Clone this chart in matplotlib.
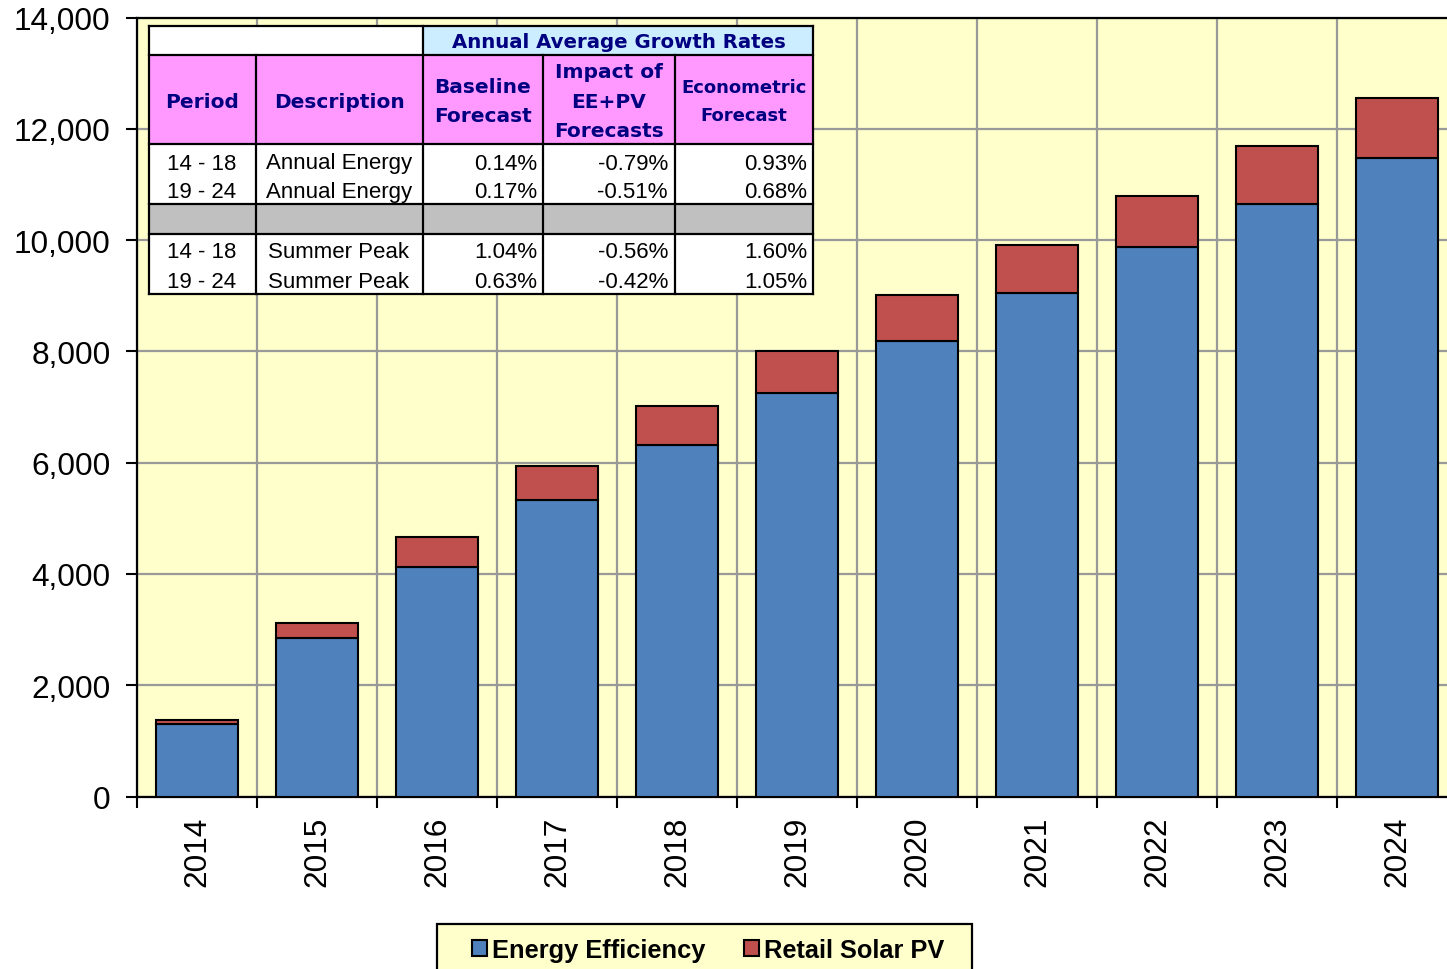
import matplotlib.pyplot as plt
from matplotlib.patches import Rectangle
from matplotlib.lines import Line2D

# Cumulative savings by year
years = ["2014", "2015", "2016", "2017", "2018", "2019",
         "2020", "2021", "2022", "2023", "2024"]
energy_efficiency = [1294, 2840, 4116, 5325, 6326, 7256, 8183, 9040, 9867, 10640, 11467]
retail_solar_pv = [77, 287, 539, 611, 683, 747, 821, 863, 917, 1042, 1078]

# Growth rate table
table_header = "Annual Average Growth Rates"
col_titles = ["Period", "Description", "Baseline\nForecast",
              "Impact of\nEE+PV\nForecasts", "Econometric\nForecast"]
periods = ["14 - 18", "19 - 24", "14 - 18", "19 - 24"]
descriptions = ["Annual Energy", "Annual Energy", "Summer Peak", "Summer Peak"]
baseline = ["0.14%", "0.17%", "1.04%", "0.63%"]
impact = ["-0.79%", "-0.51%", "-0.56%", "-0.42%"]
econometric = ["0.93%", "0.68%", "1.60%", "1.05%"]

W, H = 1447, 970
blue = "#4F81BD"
red = "#C0504D"
navy = "#000080"

plt.rcParams['font.family'] = ['Liberation Sans', 'DejaVu Sans']

fig = plt.figure(figsize=(W / 100, H / 100), dpi=100)
ax = fig.add_axes([137 / W, 1 - 797.5 / H, 1320 / W, 779 / H])
ax.set_facecolor("#FFFFCC")

x = list(range(len(years)))
ax.bar(x, energy_efficiency, width=0.68, color=blue, edgecolor="black",
       linewidth=1.5, label="Energy Efficiency", zorder=3)
ax.bar(x, retail_solar_pv, width=0.68, bottom=energy_efficiency, color=red,
       edgecolor="black", linewidth=1.5, label="Retail Solar PV", zorder=3)

ax.set_xlim(-0.5, len(years) - 0.5)
ax.set_ylim(0, 14000)
ax.set_yticks(range(0, 14001, 2000))
ax.set_yticklabels([f"{v:,}" for v in range(0, 14001, 2000)])
ax.set_xticks(x)
ax.set_xticklabels(years, rotation=90)
ax.set_xticks([i - 0.5 for i in range(len(years) + 1)], minor=True)

ax.tick_params(axis="y", length=8, width=1.5, pad=11, labelsize=22.8)
ax.tick_params(axis="x", which="major", length=0, pad=14, labelsize=22.8)
ax.tick_params(axis="x", which="minor", length=8, width=1.5)

ax.grid(axis="y", color="#999999", linewidth=1.6, zorder=0)
ax.grid(axis="x", which="minor", color="#999999", linewidth=1.6, zorder=0)
ax.set_axisbelow(True)
for s in ax.spines.values():
    s.set_linewidth(1.6)
    s.set_color("black")

# table drawn in pixel coordinates of the figure
def fx(px):
    return px / W

def fy(py):
    return 1 - py / H

def cell(x0, y0, x1, y1, color, z=5):
    fig.add_artist(Rectangle((fx(x0), fy(y1)), fx(x1) - fx(x0), fy(y0) - fy(y1),
                             facecolor=color, edgecolor="none", zorder=z))

def line(x0, y0, x1, y1):
    fig.add_artist(Line2D([fx(x0), fx(x1)], [fy(y0), fy(y1)], color="black",
                          linewidth=1.6, zorder=6))

cols = [149, 256, 423, 543, 675, 813]
cell(149, 27, 423, 56, "white")
cell(423, 27, 813, 56, "#CCECFF")
cell(149, 56, 813, 145, "#FF99FF")
cell(149, 145, 813, 205, "white")
cell(149, 205, 813, 235, "#C0C0C0")
cell(149, 235, 813, 295, "white")
for yy in [27, 56, 145, 205, 235, 295]:
    line(149, yy, 813, yy)
line(149, 27, 149, 295)
line(423, 27, 423, 295)
line(813, 27, 813, 295)
for xx in [256, 543, 675]:
    line(xx, 56, xx, 295)

fig.text(fx(619), fy(42.5), table_header, ha="center", va="center", color=navy,
         fontsize=14.2, fontweight="bold", family="DejaVu Sans", zorder=7)
for i, t in enumerate(col_titles):
    cx = (cols[i] + cols[i + 1]) / 2
    fig.text(fx(cx), fy(102), t, ha="center", va="center", color=navy,
             fontsize=13 if i == 4 else 14.5, fontweight="bold",
             family="DejaVu Sans", linespacing=1.7, zorder=7)

row_y = [164, 193, 253, 283]
for j, ry in enumerate(row_y):
    fig.text(fx(202), fy(ry), periods[j], ha="center", va="center",
             fontsize=16, zorder=7)
    fig.text(fx(339), fy(ry), descriptions[j], ha="center", va="center",
             fontsize=16, zorder=7)
    fig.text(fx(537), fy(ry), baseline[j], ha="right", va="center",
             fontsize=16, zorder=7)
    fig.text(fx(668), fy(ry), impact[j], ha="right", va="center",
             fontsize=16, zorder=7)
    fig.text(fx(807), fy(ry), econometric[j], ha="right", va="center",
             fontsize=16, zorder=7)

# legend box drawn separately so it can be wider than the entries
fig.add_artist(Rectangle((fx(437), fy(980)), fx(972) - fx(437), fy(925) - fy(980),
                         facecolor="#FFFFCC", edgecolor="black", linewidth=1.6,
                         zorder=1))
leg = fig.legend(loc="center", bbox_to_anchor=(fx(708), fy(951)), ncol=2,
                 frameon=False, handlelength=0.6, handleheight=0.6,
                 handletextpad=0.2, columnspacing=1.5, borderpad=0,
                 borderaxespad=0, prop={"size": 18.3, "weight": "bold"})
leg.set_zorder(2)

fig.savefig("out.png", dpi=100)
